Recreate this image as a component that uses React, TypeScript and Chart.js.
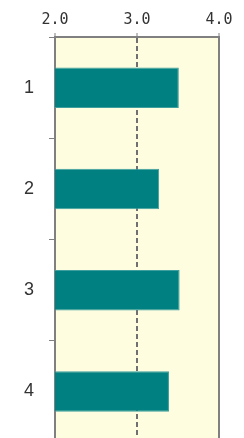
import React, { useEffect, useRef } from "react";
import { Chart, registerables } from "chart.js";

Chart.register(...registerables);

const categories = ["1", "2", "3", "4"];
const values = [3.51, 3.27, 3.52, 3.39];
const xTicks = [2, 3, 4];

const bgPlugin = {
  id: "bgPlugin",
  beforeDraw(chart: any) {
    const { ctx, chartArea } = chart;
    ctx.save();
    ctx.fillStyle = "#fffde0";
    ctx.fillRect(chartArea.left, chartArea.top, chartArea.right - chartArea.left, chartArea.bottom - chartArea.top);
    ctx.restore();
  },
  afterDraw(chart: any) {
    const { ctx, chartArea } = chart;
    ctx.save();
    ctx.strokeStyle = "#808080";
    ctx.lineWidth = 2;
    ctx.beginPath();
    ctx.moveTo(chartArea.right, chartArea.top - 1);
    ctx.lineTo(chartArea.right, chartArea.bottom);
    ctx.stroke();
    ctx.restore();
  },
};

export default function App() {
  const ref = useRef<HTMLCanvasElement>(null);
  useEffect(() => {
    const chart = new Chart(ref.current!, {
      type: "bar",
      data: {
        labels: categories,
        datasets: [
          {
            data: values,
            backgroundColor: "#008080",
            borderColor: "#3f9f9f",
            borderWidth: 1,
            barPercentage: 0.4,
            categoryPercentage: 1,
          },
        ],
      },
      options: {
        indexAxis: "y",
        responsive: false,
        animation: false,
        layout: { padding: { left: 0, right: 25, top: 0, bottom: 2 } },
        plugins: { legend: { display: false }, tooltip: { enabled: false } },
        scales: {
          x: {
            position: "top",
            min: 2,
            max: 4,
            afterFit: (s: any) => {
              s.height = 37;
              s.paddingLeft = 0;
              s.paddingRight = 0;
            },
            afterBuildTicks: (s: any) => {
              s.ticks = xTicks.map((v) => ({ value: v }));
            },
            ticks: {
              callback: (v: any) => Number(v).toFixed(1),
              font: { family: "DejaVu Sans Mono", size: 15 },
              color: "#333333",
              padding: 4,
              maxRotation: 0,
            },
            grid: {
              drawOnChartArea: true,
              color: (c: any) => (c.tick && c.tick.value === 3 ? "#707070" : "rgba(0,0,0,0)"),
              lineWidth: 2,
              tickColor: "#808080",
              tickLength: 4,
              tickWidth: 1,
              tickBorderDash: [],
            },
            border: { display: true, color: "#808080", width: 2, dash: [5, 3] },
          },
          y: {
            offset: true,
            afterFit: (s: any) => {
              s.width = 55;
              s.paddingTop = 0;
              s.paddingBottom = 0;
            },
            ticks: {
              font: { family: "Liberation Sans", size: 18 },
              color: "#333333",
              padding: 15,
            },
            grid: {
              offset: true,
              drawOnChartArea: false,
              tickColor: "#808080",
              tickLength: 6,
              tickWidth: 1,
            },
            border: { display: true, color: "#808080", width: 2 },
          },
        },
      },
      plugins: [bgPlugin],
    } as any);
    return () => chart.destroy();
  }, []);
  return (
    <div style={{ position: "absolute", left: 0, top: 0, width: 244, height: 444 }}>
      <canvas ref={ref} width={244} height={444} style={{ width: 244, height: 444 }} />
    </div>
  );
}
